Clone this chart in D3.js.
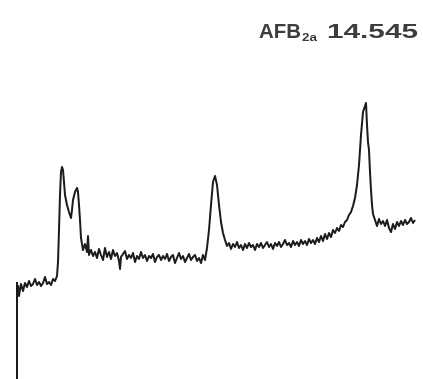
<!DOCTYPE html>
<html>
<head>
<meta charset="utf-8">
<script src="https://cdn.jsdelivr.net/npm/d3@7"></script>
<style>
  html, body { margin: 0; padding: 0; background: #fff; }
  #chart svg { display: block; }
</style>
</head>
<body>
<div id="chart"></div>
<script>
// peak label
const compound = "AFB";
const compoundSub = "2a";
const retentionLabel = "14.545";

// detector trace, time in seconds, signal in mV
const traceTime = [
  0, 2.5, 5, 7.5, 10, 15, 20, 25, 30, 35, 40, 45, 50, 55, 60, 65, 70, 75, 80, 85, 90, 95,
  100, 102.5, 105, 107.5, 110, 112.5, 115, 117.5, 120, 125, 130, 135, 137.5, 140, 145, 150, 152.5, 155, 157.5, 160,
  165, 170, 175, 177.5, 180, 185, 190, 195, 200, 205, 210, 215, 220, 225, 230, 235, 240, 245, 250, 255, 257.5, 260,
  265, 270, 275, 280, 285, 290, 295, 300, 305, 310, 315, 320, 325, 330, 335, 340, 345, 350, 355, 360,
  365, 370, 375, 380, 385, 390, 395, 400, 405, 410, 415, 420, 425, 430, 435, 440, 445, 450, 455, 460,
  465, 470, 475, 480, 485, 490, 495, 500, 505, 510, 515, 520, 525, 530, 535, 540, 545, 550, 555, 560,
  565, 570, 575, 580, 585, 590, 595, 600, 605, 610, 615, 620, 625, 630, 635, 640, 645, 650, 655, 660,
  665, 670, 675, 680, 685, 690, 695, 700, 705, 710, 715, 720, 725, 730, 735, 740, 745, 750, 755, 760,
  765, 770, 775, 780, 785, 790, 795, 800, 805, 810, 815, 820, 825, 830, 835, 840, 845, 850, 855, 860,
  865, 870, 872.5, 875, 877.5, 880, 882.5, 885, 887.5, 890, 895, 900, 905, 910, 915, 920, 925, 930, 935, 940,
  945, 950, 955, 960, 965, 970, 975, 980, 985, 990, 995
];
const traceSignal = [
  88, 94, 84, 91, 96, 89, 97, 93, 99, 94, 96, 101, 95, 98, 94, 97, 103, 96, 98, 95, 101, 99,
  104, 118, 150, 185, 208, 213, 210, 198, 185, 175, 168, 162, 170, 180, 188, 192, 188, 175, 160, 142,
  130, 136, 128, 144, 125, 130, 124, 128, 122, 131, 125, 120, 132, 123, 128, 121, 130, 124, 127, 119, 111, 123,
  126, 129, 121, 125, 122, 127, 118, 124, 121, 128, 122, 125, 119, 124, 122, 126, 118, 123, 125, 120,
  124, 121, 126, 119, 123, 125, 117, 122, 127, 121, 124, 118, 122, 126, 120, 123, 125, 119, 122, 117,
  125, 120, 132, 150, 175, 198, 204, 195, 175, 158, 147, 140, 134, 137, 131, 136, 133, 138, 132, 135,
  130, 136, 132, 137, 133, 135, 130, 136, 133, 137, 132, 135, 138, 133, 136, 131, 137, 134, 138, 133,
  136, 140, 135, 137, 133, 139, 135, 138, 134, 140, 136, 139, 135, 141, 137, 140, 136, 142, 138, 144,
  139, 146, 141, 147, 143, 150, 147, 152, 149, 155, 153, 158, 160, 165, 168, 174, 182, 195, 215, 245,
  268, 274, 277, 255, 238, 230, 208, 190, 175, 166, 160, 154, 161, 156, 159, 154, 160, 152, 148, 156,
  151, 158, 154, 159, 155, 160, 156, 158, 162, 157, 160
];

const width = 423, height = 379;

const svg = d3.select("#chart")
  .append("svg")
  .attr("width", width)
  .attr("height", height);

svg.append("defs")
  .append("filter")
  .attr("id", "scan")
  .append("feGaussianBlur")
  .attr("stdDeviation", 0.5);

const xScale = d3.scaleLinear().domain([0, 1000]).range([17, 417]);
const yScale = d3.scaleLinear().domain([0, 280]).range([380, 100]);

const trace = traceTime.map((t, i) => ({ t: t, v: traceSignal[i] }));

const plot = svg.append("g").attr("filter", "url(#scan)");

// signal axis: only the stub below the trace start is on the paper
plot.append("line")
  .attr("x1", xScale(0))
  .attr("x2", xScale(0))
  .attr("y1", yScale(traceSignal[0] + 10))
  .attr("y2", yScale(0))
  .style("stroke", "#1a1a1a")
  .style("stroke-width", 2);

const line = d3.line()
  .x(d => xScale(d.t))
  .y(d => yScale(d.v));

plot.append("path")
  .datum(trace)
  .attr("d", line)
  .style("fill", "none")
  .style("stroke", "#1a1a1a")
  .style("stroke-width", 2)
  .style("stroke-linejoin", "round");

// label top right
const label = svg.append("g")
  .attr("filter", "url(#scan)")
  .style("font-family", "'Liberation Sans', Arial, sans-serif")
  .style("font-weight", "bold")
  .style("fill", "#3c3c3c");

label.append("text")
  .attr("x", 259)
  .attr("y", 38)
  .attr("font-size", 21)
  .attr("textLength", 42)
  .attr("lengthAdjust", "spacingAndGlyphs")
  .text(compound);

label.append("text")
  .attr("x", 302)
  .attr("y", 41)
  .attr("font-size", 10)
  .attr("textLength", 15)
  .attr("lengthAdjust", "spacingAndGlyphs")
  .text(compoundSub);

label.append("text")
  .attr("x", 327)
  .attr("y", 38)
  .attr("font-size", 21)
  .attr("textLength", 91)
  .attr("lengthAdjust", "spacingAndGlyphs")
  .text(retentionLabel);
</script>
</body>
</html>
